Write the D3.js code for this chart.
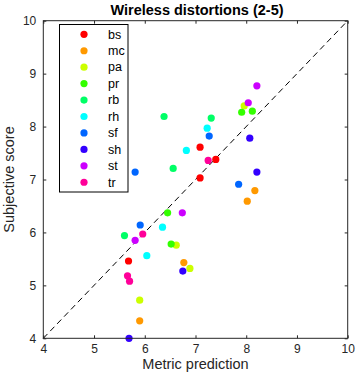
<!DOCTYPE html>
<html><head><meta charset="utf-8">
<script src="https://cdn.jsdelivr.net/npm/d3@7"></script>
<style>body{margin:0;background:#fff;} text{font-family:"Liberation Sans",Arial,sans-serif;}</style>
</head><body>
<svg id="c" width="358" height="385"></svg>
<script>
const seriesNames = ["bs","mc","pa","pr","rb","rh","sf","sh","st","tr"];
const seriesColors = ["#ff0000","#ff9900","#ccff00","#33ff00","#00ff66","#00ffff","#0066ff","#3300ff","#cc00ff","#ff0099"];
const bsX = [7.09, 7.40, 7.09, 5.68];  const bsY = [7.61, 7.38, 7.03, 5.46];
const mcX = [8.17, 8.02, 6.77, 5.90];  const mcY = [6.79, 6.59, 5.43, 4.33];
const paX = [7.96, 6.62, 6.89, 5.90];  const paY = [8.39, 5.76, 5.32, 4.72];
const prX = [7.91, 8.12, 6.45, 6.52];  const prY = [8.27, 8.29, 6.37, 5.78];
const rbX = [6.38, 7.31, 6.56, 5.60];  const rbY = [8.19, 8.16, 7.21, 5.94];
const rhX = [7.23, 6.82, 6.35, 6.04];  const rhY = [7.97, 7.55, 6.10, 5.56];
const sfX = [7.27, 5.81, 7.85, 5.91];  const sfY = [7.82, 7.14, 6.91, 6.14];
const shX = [8.07, 8.21, 6.75, 5.69];  const shY = [7.78, 7.14, 5.27, 4.00];
const stX = [8.21, 8.04, 6.74, 5.81];  const stY = [8.77, 8.45, 6.37, 5.85];
const trX = [7.25, 5.96, 5.66, 5.70];  const trY = [7.36, 5.97, 5.18, 5.08];
const xTicks = [4,5,6,7,8,9,10];
const yTicks = [4,5,6,7,8,9,10];
const titleText = "Wireless distortions (2-5)";
const xLabel = "Metric prediction";
const yLabel = "Subjective score";

const allX = [bsX,mcX,paX,prX,rbX,rhX,sfX,shX,stX,trX];
const allY = [bsY,mcY,paY,prY,rbY,rhY,sfY,shY,stY,trY];

const L = 43.3, R = 347.7, T = 20.7, B = 338.3;
const x = d3.scaleLinear().domain([4,10]).range([L,R]);
const y = d3.scaleLinear().domain([4,10]).range([B,T]);
const svg = d3.select("#c");
const ink = "#262626";

const fmt = d3.format("d");
svg.append("g").attr("transform",`translate(0,${B})`)
  .call(d3.axisBottom(x).tickValues(xTicks).tickFormat(fmt).tickSizeInner(-3).tickSizeOuter(0).tickPadding(6))
  .call(g=>{g.select(".domain").remove();g.selectAll("text").attr("font-size",12).attr("fill",ink).attr("font-family","Liberation Sans, Arial, sans-serif");g.selectAll("line").attr("stroke",ink);});
svg.append("g").attr("transform",`translate(0,${T})`)
  .call(d3.axisTop(x).tickValues(xTicks).tickFormat("").tickSizeInner(-3).tickSizeOuter(0))
  .call(g=>{g.select(".domain").remove();g.selectAll("line").attr("stroke",ink);});
svg.append("g").attr("transform",`translate(${L},0)`)
  .call(d3.axisLeft(y).tickValues(yTicks).tickFormat(fmt).tickSizeInner(-3).tickSizeOuter(0).tickPadding(7))
  .call(g=>{g.select(".domain").remove();g.selectAll("text").attr("font-size",12).attr("fill",ink).attr("font-family","Liberation Sans, Arial, sans-serif");g.selectAll("line").attr("stroke",ink);});
svg.append("g").attr("transform",`translate(${R},0)`)
  .call(d3.axisRight(y).tickValues(yTicks).tickFormat("").tickSizeInner(-3).tickSizeOuter(0))
  .call(g=>{g.select(".domain").remove();g.selectAll("line").attr("stroke",ink);});

svg.append("line").attr("x1",x(4)).attr("y1",y(4)).attr("x2",x(10)).attr("y2",y(10))
  .attr("stroke","#000").attr("stroke-width",1).attr("stroke-dasharray","6,4");

seriesNames.forEach((n,i)=>{
  svg.append("g").selectAll("circle").data(allX[i].map((v,j)=>[v,allY[i][j]])).join("circle")
    .attr("cx",d=>x(d[0])).attr("cy",d=>y(d[1])).attr("r",3.6).attr("fill",seriesColors[i]);
});

svg.append("rect").attr("x",L).attr("y",T).attr("width",R-L).attr("height",B-T)
  .attr("fill","none").attr("stroke",ink).attr("stroke-width",1);

const lg = svg.append("g");
lg.append("rect").attr("x",59.5).attr("y",24.5).attr("width",68.5).attr("height",167.5)
  .attr("fill","#fff").attr("stroke","#000").attr("stroke-width",1);
seriesNames.forEach((n,i)=>{
  const cy = 34.3 + i*16.44;
  lg.append("circle").attr("cx",84).attr("cy",cy).attr("r",3.6).attr("fill",seriesColors[i]);
  lg.append("text").attr("x",108).attr("y",cy+4.3).attr("font-size",12.5).attr("fill","#000").text(n);
});

svg.append("text").attr("x",(L+R)/2+1.5).attr("y",14.5).attr("text-anchor","middle")
  .attr("font-size",14.5).attr("font-weight","bold").attr("fill","#000").text(titleText);
svg.append("text").attr("x",(L+R)/2).attr("y",368.5).attr("text-anchor","middle")
  .attr("font-size",14.5).attr("fill",ink).text(xLabel);
svg.append("text").attr("transform",`translate(13.5,${(T+B)/2}) rotate(-90)`).attr("text-anchor","middle")
  .attr("font-size",14.5).attr("fill",ink).text(yLabel);
</script>
</body></html>
